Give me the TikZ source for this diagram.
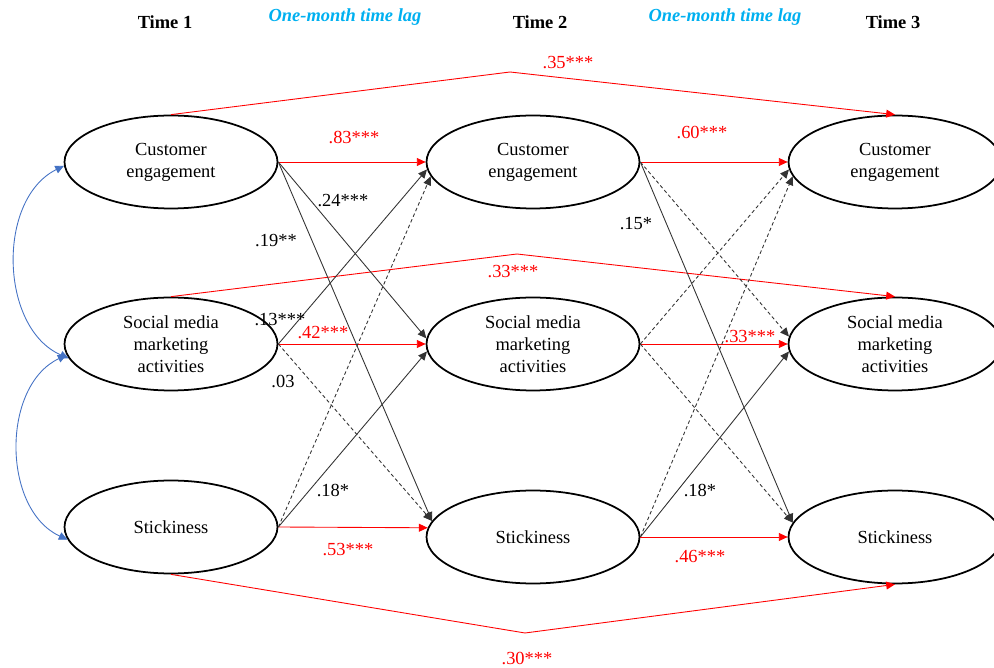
\documentclass[tikz,border=0pt]{standalone}
\usepackage{fontspec}
\setmainfont{Liberation Serif}
\usetikzlibrary{shapes, positioning, arrows.meta}
\definecolor{lagblue}{HTML}{00B0F0}
\definecolor{covblue}{HTML}{4472C4}

\begin{document}
\begin{tikzpicture}[
      x=0.02cm, y=-0.02cm,
      font=\fontsize{10.5}{12.5}\selectfont,
      construct/.style={ellipse, draw, line width=1pt, minimum width=4.26cm,
        minimum height=1.86cm, inner sep=0pt, align=center},
      timehead/.style={font=\fontsize{10.5}{12.5}\selectfont\bfseries},
      laghead/.style={font=\fontsize{10.5}{12.5}\selectfont\bfseries\itshape, text=lagblue},
      autoreg/.style={draw=red, line width=0.5pt, -{Triangle[length=5pt,width=4.5pt]}},
      crossed/.style={draw=black!80, line width=0.5pt, -{Triangle[length=5pt,width=4.5pt]}},
      nonsig/.style={crossed, dash pattern=on 2pt off 1.5pt},
      cov/.style={draw=covblue, line width=0.5pt,
        {Triangle[length=5pt,width=4.5pt]}-{Triangle[length=5pt,width=4.5pt]}},
      redlab/.style={text=red, inner sep=1pt},
      blacklab/.style={text=black, inner sep=1pt}
    ]
    \useasboundingbox (0,0) rectangle (994,668);

    \node[timehead] (t1) at (165,22) {Time 1};
    \node[laghead] (lag1) at (345,17) {One-month time lag};
    \node[timehead] (t2) at (540,22) {Time 2};
    \node[laghead] (lag2) at (725,17) {One-month time lag};
    \node[timehead] (t3) at (893,22) {Time 3};

    \node[construct] (ce1) at (171,162) {Customer\\engagement};
    \node[construct] (smma1) at (171,344) {Social media\\marketing\\activities};
    \node[construct] (stick1) at (171,527) {Stickiness};
    \node[construct] (ce2) at (533,162) {Customer\\engagement};
    \node[construct] (smma2) at (533,344) {Social media\\marketing\\activities};
    \node[construct] (stick2) at (533,537) {Stickiness};
    \node[construct] (ce3) at (895,162) {Customer\\engagement};
    \node[construct] (smma3) at (895,344) {Social media\\marketing\\activities};
    \node[construct] (stick3) at (895,537) {Stickiness};

    \coordinate (bendce) at (510,72);
    \coordinate (bendsmma) at (517,254);
    \coordinate (bendstick) at (525,633);

    \draw[autoreg] (ce1.north) -- (bendce) -- (ce3.north);
    \draw[autoreg] (smma1.north) -- (bendsmma) -- (smma3.north);
    \draw[autoreg] (stick1.south) -- (bendstick) -- (stick3.south);

    \draw[autoreg] (ce1.east) -- (ce2.west);
    \draw[autoreg] (smma1.east) -- (smma2.west);
    \draw[autoreg] (stick1.east) -- (stick2.175);
    \draw[autoreg] (ce2.east) -- (ce3.west);
    \draw[autoreg] (smma2.east) -- (smma3.west);
    \draw[autoreg] (stick2.east) -- (stick3.west);

    \draw[crossed] (ce1.east) -- (smma2.177);
    \draw[crossed] (ce1.east) -- (stick2.171);
    \draw[crossed] (smma1.east) -- (ce2.184);
    \draw[nonsig] (smma1.east) -- (stick2.171);
    \draw[nonsig] (stick1.east) -- (ce2.188);
    \draw[crossed] (stick1.east) -- (smma2.184);

    \draw[nonsig] (ce2.east) -- (smma3.176);
    \draw[crossed] (ce2.east) -- (stick3.172);
    \draw[nonsig] (smma2.east) -- (ce3.184);
    \draw[nonsig] (smma2.east) -- (stick3.172);
    \draw[nonsig] (stick2.east) -- (ce3.188);
    \draw[crossed] (stick2.east) -- (smma3.184);

    \draw[cov] (ce1.182) to[bend right=65] (smma1.188);
    \draw[cov] (smma1.186) to[bend right=65] (stick1.187);

    \node[redlab] (b35) at (568,63) {.35***};
    \node[redlab] (b33a) at (513,272) {.33***};
    \node[redlab] (b30) at (527,658) {.30***};
    \node[redlab] (b83) at (354,138) {.83***};
    \node[redlab] (b42) at (323,333) {.42***};
    \node[redlab] (b53) at (348,550) {.53***};
    \node[redlab] (b60) at (702,133) {.60***};
    \node[redlab] (b33b) at (750,337) {.33***};
    \node[redlab] (b46) at (700,557) {.46***};
    \node[blacklab] (b24) at (343,201) {.24***};
    \node[blacklab] (b19) at (276,241) {.19**};
    \node[blacklab] (b13) at (280,320) {.13***};
    \node[blacklab] (b03) at (283,381) {.03};
    \node[blacklab] (b18a) at (333,490) {.18*};
    \node[blacklab] (b15) at (636,224) {.15*};
    \node[blacklab] (b18b) at (700,490) {.18*};
\end{tikzpicture}
\end{document}
